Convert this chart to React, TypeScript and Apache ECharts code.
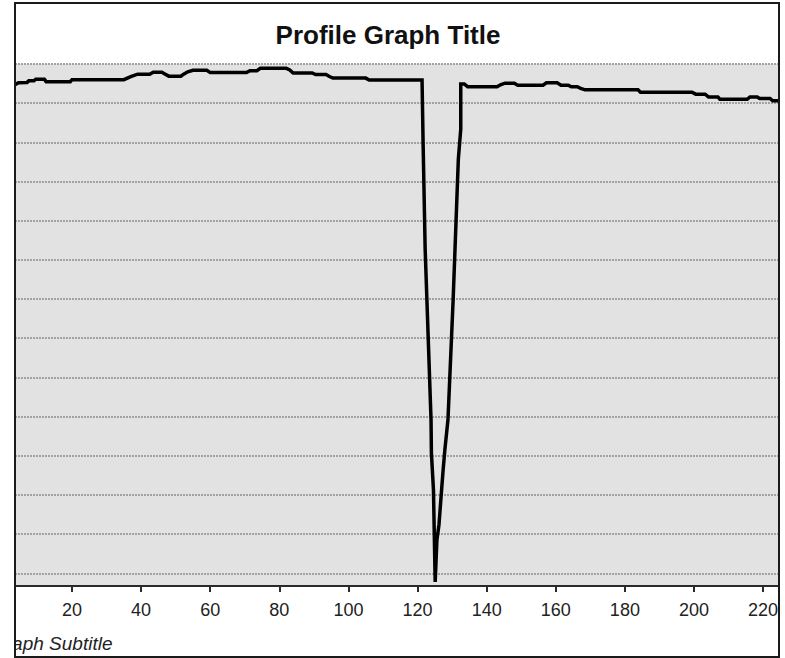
import React, { useEffect, useRef } from "react";
import * as echarts from "echarts";

// Profile: distance along profile and elevation (arbitrary units)
const distance = [
  3.5, 4.5, 7, 7.5, 9, 9.5, 12, 12.5, 19.5, 20, 35, 37, 39, 42.5, 43.5, 46, 47, 48, 51.5, 52.3,
  53.5, 55, 59, 60, 70.5, 71.5, 73.5, 74.5, 82, 83, 84, 89.5, 90.5, 93.5, 94.5, 95.5, 105, 106,
  121.3, 121.6, 122.2, 123.9, 124.0, 124.6, 125.1, 125.6, 126.2, 126.8, 127.4, 127.9, 128.8,
  130.3, 131.8, 132.5, 132.5, 133.5, 134.5, 143, 144, 145.3, 148, 149, 156.3, 157.3, 160.4,
  161.5, 163.6, 164.5, 166.2, 167.2, 168.5, 183.8, 184.5, 199.4, 200.5, 203.2, 204.2, 206.9,
  207.5, 215.4, 216.2, 218.3, 219, 222, 222.8, 224.9,
];
const elevation = [
  124.7, 125.2, 125.3, 125.7, 125.7, 126.1, 126.1, 125.5, 125.5, 126.0, 126.0, 126.8, 127.4,
  127.4, 127.9, 127.9, 127.4, 126.9, 126.9, 127.4, 128.0, 128.4, 128.4, 127.8, 127.8, 128.3,
  128.3, 128.9, 128.9, 128.5, 127.7, 127.7, 127.3, 127.3, 126.8, 126.4, 126.4, 125.9,
  125.9, 110.0, 82.7, 39.2, 30.8, 21.3, -2.2, 8.5, 12.4, 19.5, 26.4, 31.5, 39.2,
  69.9, 105.7, 113.4, 124.9, 124.9, 124.2, 124.2, 124.7, 125.1, 125.1, 124.6, 124.6, 125.2, 125.2,
  124.6, 124.6, 124.2, 124.2, 123.8, 123.4, 123.4, 122.8, 122.8, 122.3, 122.3, 121.6, 121.6,
  121.0, 121.0, 121.6, 121.6, 121.2, 121.2, 120.6, 120.6,
];

const xRange = [3.5, 224.6];
const yRange = [-3.25, 130];

const titleText = "Profile Graph Title";
const subtitleText = "Graph Subtitle";

const FONT = "'Liberation Sans', Arial, Helvetica, sans-serif";

export default function App() {
  const ref = useRef<HTMLDivElement>(null);

  useEffect(() => {
    document.body.style.margin = "0";
    const chart = echarts.init(ref.current as HTMLDivElement, null, { renderer: "svg" });
    const data = distance.map((d, i) => [d, elevation[i]]);

    chart.setOption({
      animation: false,
      backgroundColor: "#ffffff",
      grid: {
        left: 15,
        right: 6,
        top: 64,
        bottom: 72,
        show: true,
        backgroundColor: "#e2e2e2",
        borderWidth: 0,
      },
      xAxis: {
        type: "value",
        min: xRange[0],
        max: xRange[1],
        splitNumber: 11,
        axisLine: { show: true, onZero: false, lineStyle: { color: "#2a2a2a", width: 2 } },
        axisTick: { show: true, length: 6, lineStyle: { color: "#2a2a2a", width: 2 } },
        axisLabel: {
          showMinLabel: false,
          showMaxLabel: false,
          color: "#222",
          fontSize: 18,
          fontFamily: FONT,
          margin: 15,
        },
        splitLine: { show: false },
      },
      yAxis: {
        type: "value",
        min: yRange[0],
        max: yRange[1],
        splitNumber: 13,
        axisLine: { show: false },
        axisTick: { show: false },
        axisLabel: { show: false },
        splitLine: {
          show: true,
          lineStyle: { color: "#a2a2a2", width: 2, type: [2, 1] },
        },
      },
      series: [
        {
          type: "line",
          data,
          symbol: "none",
          showSymbol: false,
          clip: true,
          lineStyle: { color: "#000000", width: 3.5, join: "miter" },
          z: 5,
        },
      ],
      graphic: [
        {
          type: "text",
          x: 388,
          y: 35,
          z: 50,
          style: {
            text: titleText,
            font: `bold 26px ${FONT}`,
            fill: "#111",
            align: "center",
            verticalAlign: "middle",
          },
        },
        {
          type: "text",
          x: -9,
          y: 643,
          z: 50,
          style: {
            text: subtitleText,
            font: `italic 19px ${FONT}`,
            fill: "#222",
            align: "left",
            verticalAlign: "middle",
          },
        },
        {
          type: "rect",
          z: 60,
          shape: { x: 0, y: 0, width: 14, height: 658 },
          style: { fill: "#ffffff" },
        },
        {
          type: "rect",
          z: 70,
          shape: { x: 15, y: 3, width: 764, height: 654 },
          style: { fill: "none", stroke: "#1a1a1a", lineWidth: 2 },
        },
      ],
    });

    return () => chart.dispose();
  }, []);

  return (
    <div
      ref={ref}
      style={{ position: "absolute", left: 0, top: 0, width: 785, height: 658, background: "#fff" }}
    />
  );
}
